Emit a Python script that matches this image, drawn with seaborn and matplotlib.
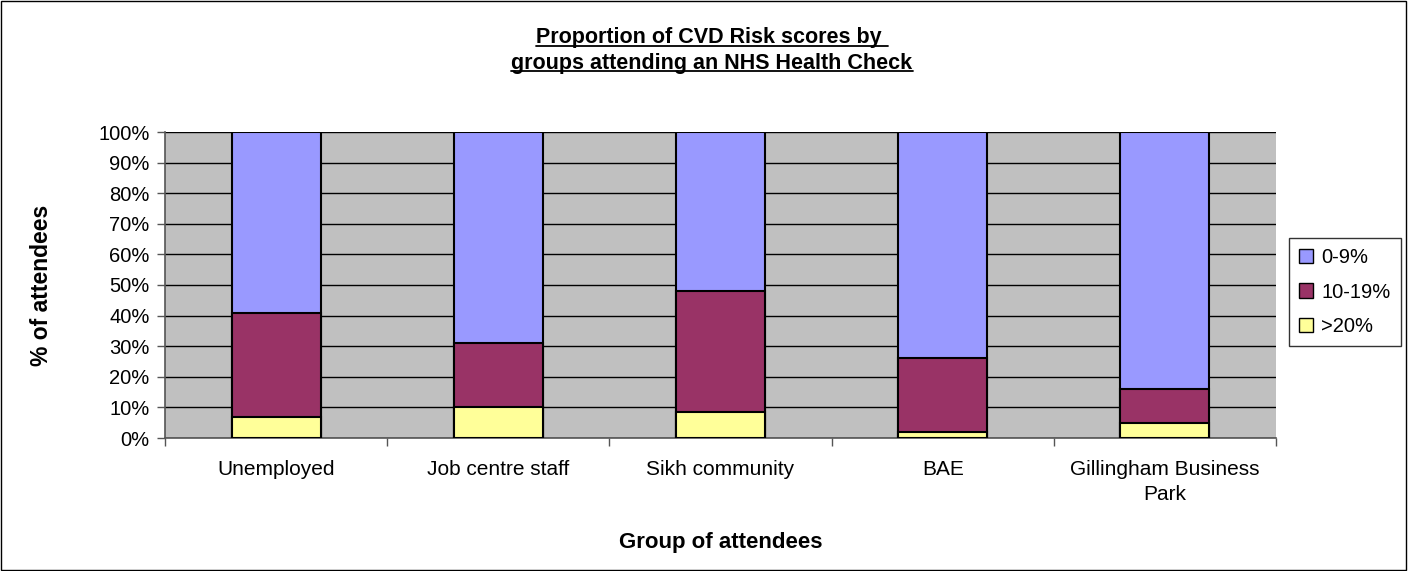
import numpy as np
import pandas as pd
import matplotlib
matplotlib.use('Agg')
import matplotlib.pyplot as plt
from matplotlib.patches import Patch, Rectangle
from matplotlib.lines import Line2D
import seaborn as sns

groups = ['Unemployed', 'Job centre staff', 'Sikh community', 'BAE',
          'Gillingham Business\nPark']
low = [7, 10, 8.5, 2, 5]        # >20%
mid = [34, 21, 39.5, 24, 11]    # 10-19%
high = [59, 69, 52, 74, 84]     # 0-9%
series_names = ['0-9%', '10-19%', '>20%']
colors = {'0-9%': '#9999FF', '10-19%': '#993366', '>20%': '#FFFF99'}

df = pd.DataFrame({'group': groups, 'low': low, 'mid': mid, 'high': high})
df['cum_mid'] = df['low'] + df['mid']
df['cum_high'] = df['cum_mid'] + df['high']

sns.set_style('white')
plt.rcParams['font.family'] = ['Liberation Sans', 'DejaVu Sans']
plt.rcParams['text.color'] = 'black'
plt.rcParams['axes.labelcolor'] = 'black'
plt.rcParams['xtick.color'] = 'black'
plt.rcParams['ytick.color'] = 'black'

fig = plt.figure(figsize=(14.08, 5.71), dpi=100)
ax = fig.add_axes([165 / 1408, 1 - 438 / 571, (1276 - 165) / 1408, (438 - 132) / 571])
ax.set_facecolor('#C0C0C0')

# overlap cumulative bars, tallest first
for col, name in [('cum_high', '0-9%'), ('cum_mid', '10-19%'), ('low', '>20%')]:
    sns.barplot(data=df, x='group', y=col, color=colors[name], width=0.4,
                edgecolor='black', linewidth=1.5, saturation=1, ax=ax, zorder=3)

ax.set_ylim(0, 100)
ax.set_xlim(-0.5, len(groups) - 0.5)
ax.set_yticks(np.arange(0, 101, 10))
ax.set_yticklabels([f'{v}%' for v in range(0, 101, 10)], fontsize=14.5)
ax.yaxis.grid(True, color='black', linewidth=1, zorder=0)
ax.set_axisbelow(True)
ax.set_xticks(range(len(groups)))
ax.set_xticklabels(groups, fontsize=15, linespacing=1.4)
ax.set_xticks(np.arange(-0.5, len(groups)), minor=True)
ax.tick_params(axis='x', which='major', length=0, pad=16)
ax.tick_params(axis='x', which='minor', length=6, width=1, color='#555555', bottom=True)
ax.tick_params(axis='y', length=6, width=1, color='#555555', left=True, pad=5)
for s in ['top', 'right']:
    ax.spines[s].set_visible(False)
for s in ['left', 'bottom']:
    ax.spines[s].set_color('#555555')
    ax.spines[s].set_linewidth(1.2)

ax.set_xlabel('Group of attendees', fontsize=16, fontweight='bold', labelpad=20)
ax.set_ylabel('% of attendees', fontsize=16.5, fontweight='bold', labelpad=33)

handles = [Patch(facecolor=colors[n], edgecolor='black', label=n) for n in series_names]
leg = fig.legend(handles=handles, loc='center left', bbox_to_anchor=(1289 / 1408, 1 - 292 / 571),
                 fontsize=14.5, frameon=True, fancybox=False, edgecolor='black',
                 handlelength=0.7, handleheight=0.7, handletextpad=0.4,
                 borderpad=0.5, labelspacing=0.75, borderaxespad=0)
leg.get_frame().set_linewidth(1)

# title with underline
title_lines = ['Proportion of CVD Risk scores by ', 'groups attending an NHS Health Check']
title_y = [1 - 38 / 571, 1 - 63 / 571]
texts = [fig.text(712 / 1408, y, t, ha='center', va='center', fontsize=15.5,
                  fontweight='bold') for t, y in zip(title_lines, title_y)]
fig.canvas.draw()
r = fig.canvas.get_renderer()
for t in texts:
    bb = t.get_window_extent(renderer=r).transformed(fig.transFigure.inverted())
    yline = bb.y0 + 0.1 * (bb.y1 - bb.y0)
    fig.add_artist(Line2D([bb.x0, bb.x1], [yline, yline], color='black',
                          linewidth=1.3, transform=fig.transFigure))

fig.add_artist(Rectangle((0.0005, 0.001), 0.998, 0.997, fill=False, edgecolor='black',
                         linewidth=1, transform=fig.transFigure))

fig.savefig('out.png', dpi=100)
